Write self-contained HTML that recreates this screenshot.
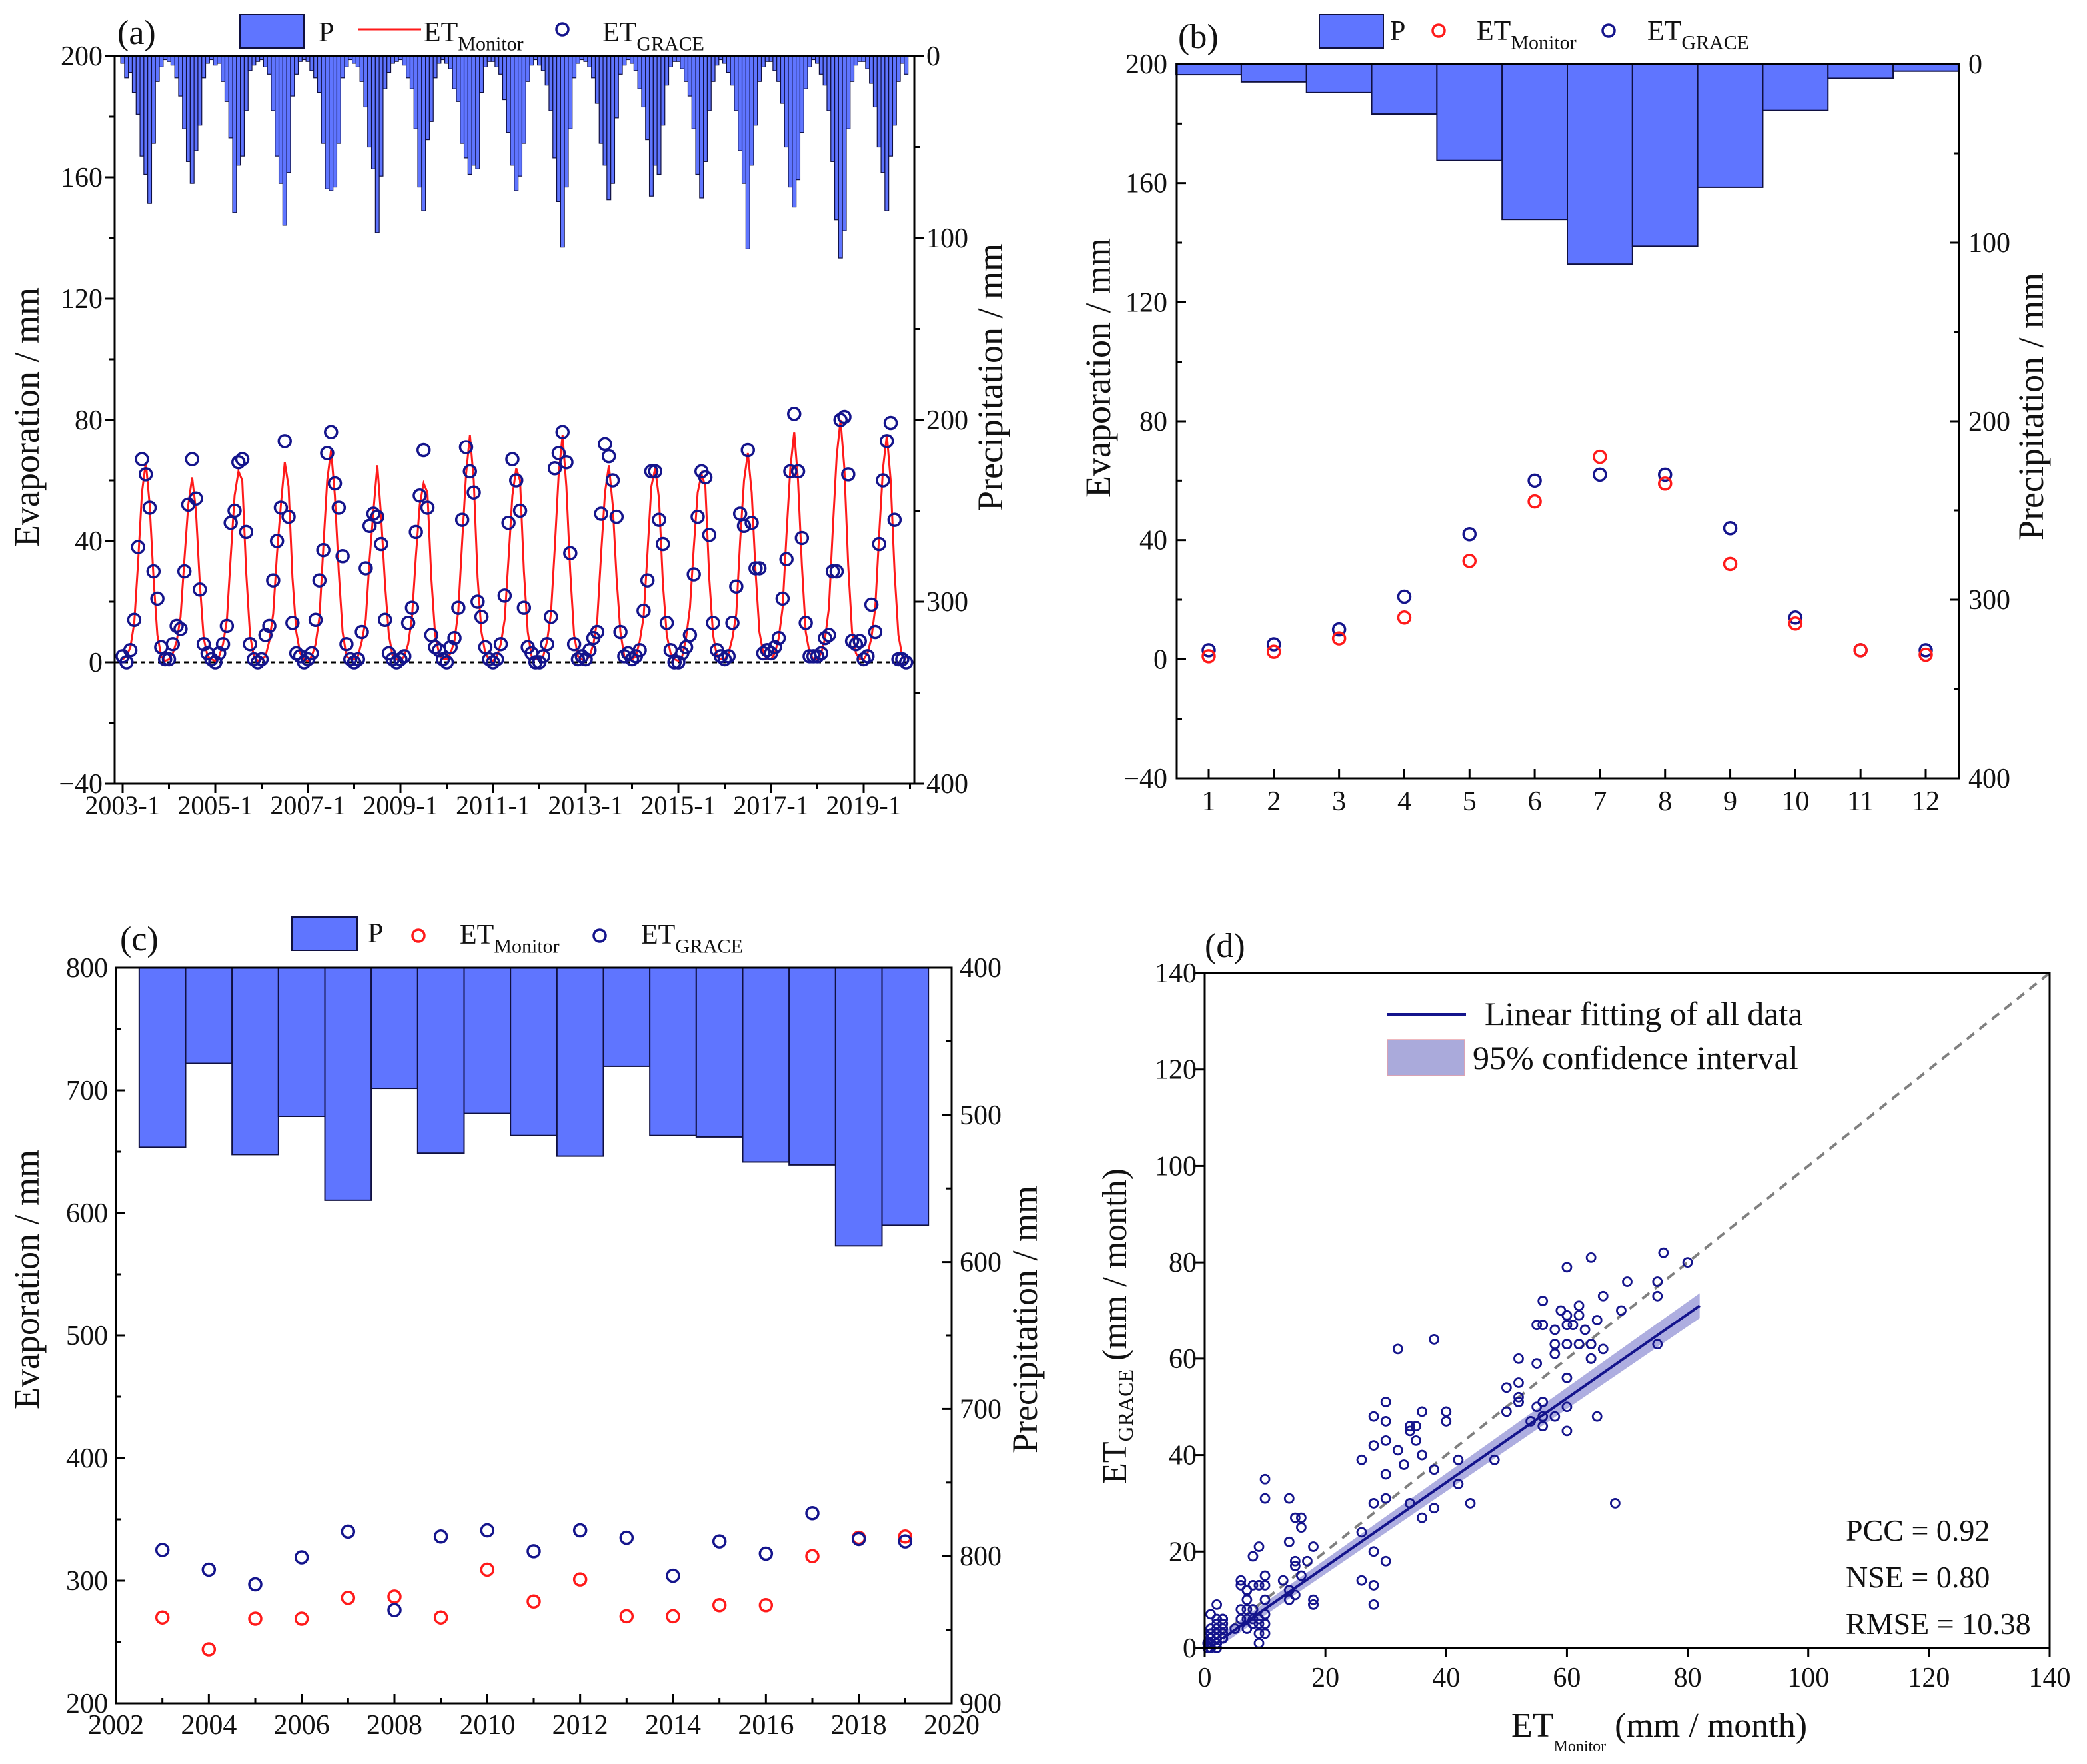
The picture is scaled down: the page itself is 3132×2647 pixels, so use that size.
<!DOCTYPE html>
<html><head><meta charset="utf-8"><style>
html,body{margin:0;padding:0;background:#fff;}
svg{display:block;font-family:"Liberation Serif",serif;}
svg text{font-family:"Liberation Serif",serif;}
</style></head><body>
<svg id="svg" width="3132" height="2647" viewBox="0 0 3132 2647" xmlns="http://www.w3.org/2000/svg" font-family="Liberation Serif, serif"></svg>
<script>
// ---------- data ----------
const yearsA = [2003,2004,2005,2006,2007,2008,2009,2010,2011,2012,2013,2014,2015,2016,2017,2018,2019];
const precipMonthly = [
[4,12,9,20,32,55,65,81,48,14,6,2],
[3,5,12,22,40,58,70,52,38,12,4,2],
[5,4,14,25,45,86,60,55,30,8,5,3],
[2,6,10,30,55,70,93,64,22,10,3,2],
[3,8,12,20,48,73,74,72,48,12,6,2],
[4,6,14,28,50,62,97,66,18,9,4,3],
[2,5,12,18,40,72,85,46,36,12,4,2],
[4,7,18,25,48,56,65,60,62,20,6,3],
[3,6,10,24,42,60,74,66,48,14,5,2],
[5,8,16,30,56,80,105,72,40,12,4,2],
[3,6,12,26,48,60,79,70,34,10,5,2],
[4,8,18,28,46,77,60,65,38,16,6,3],
[3,7,14,22,40,65,78,58,30,14,5,2],
[4,9,16,30,52,70,106,60,38,14,6,3],
[3,8,14,26,50,72,83,68,42,18,6,2],
[4,10,16,30,58,90,111,96,40,14,5,3],
[3,7,15,28,50,64,85,55,38,14,4,10]];
const etMonitorMonthly = [
[1,2,5,13,33,56,66,52,28,9,2,0.5],
[1,3,7,15,34,52,61,50,26,8,2,1],
[0.5,2,6,14,35,55,63,60,30,9,2,0.5],
[1,2,7,16,36,52,66,58,28,10,3,1],
[0.5,2,6,15,38,60,70,55,30,10,2,1],
[1,2,7,14,34,50,65,48,26,9,2,1],
[0.5,2,6,15,35,52,59,56,28,9,3,1],
[1,3,7,17,40,62,75,60,28,10,3,1],
[0.5,2,6,14,34,55,64,60,30,10,2,1],
[1,2,7,16,38,62,75,58,30,9,2,1],
[0.5,2,6,14,36,56,65,52,28,10,2,1],
[1,2,7,15,36,58,64,54,26,9,3,1],
[0.5,2,8,18,38,56,62,58,28,9,2,1],
[1,3,8,16,40,60,69,56,30,10,3,1],
[1,3,8,18,42,64,76,60,32,10,3,1],
[1,3,8,18,44,68,80,64,32,10,3,1],
[1,3,8,18,42,64,75,60,30,9,2,1]];
const etGraceMonthly = [
[2,0,4,14,38,67,62,51,30,21,5,1],
[1,6,12,11,30,52,67,54,24,6,3,1],
[0,3,6,12,46,50,66,67,43,6,1,0],
[1,9,12,27,40,51,73,48,13,3,2,0],
[1,3,14,27,37,69,76,59,51,35,6,1],
[0,1,10,31,45,49,48,39,14,3,1,0],
[1,2,13,18,43,55,70,51,9,5,4,1],
[0,5,8,18,47,71,63,56,20,15,5,1],
[0,1,6,22,46,67,60,50,18,5,3,0],
[0,2,6,15,64,69,76,66,36,6,1,2],
[1,4,8,10,49,72,68,60,48,10,2,3],
[1,2,4,17,27,63,63,47,39,13,4,0],
[0,3,5,9,29,48,63,61,42,13,4,2],
[1,2,13,25,49,45,70,46,31,31,3,4],
[3,5,8,21,34,63,82,63,41,13,2,2],
[2,3,8,9,30,30,80,81,62,7,6,7],
[1,2,19,10,39,60,73,79,47,1,1,0]];

const monthsB = [1,2,3,4,5,6,7,8,9,10,11,12];
const precipB = [6,10,16,28,54,87,112,102,69,26,8,4];
const etMonitorB = [1,2.5,7,14,33,53,68,59,32,12,3,1.5];
const etGraceB = [3,5,10,21,42,60,62,62,44,14,3,3];

const yearsC = [2003,2004,2005,2006,2007,2008,2009,2010,2011,2012,2013,2014,2015,2016,2017,2018,2019];
const precipC = [522,465,527,501,558,482,526,499,514,528,467,514,515,532,534,589,575];
const etMonitorC = [270,244,269,269,286,287,270,309,283,301,271,271,280,280,320,335,336];
const etGraceC = [325,309,297,319,340,276,336,341,324,341,335,304,332,322,355,334,332];

const fitX = [3,82];
const fitY = [2,71];
const ciHalf = [1.2,2.6];
const statsLabels = ["PCC = 0.92","NSE = 0.80","RMSE = 10.38"];

// ---------- helpers ----------
const NS="http://www.w3.org/2000/svg";
const FONT='"Liberation Serif", serif';
const svg=document.getElementById('svg');
function el(tag,attrs,parent){const e=document.createElementNS(NS,tag);for(const k in attrs)e.setAttribute(k,attrs[k]);(parent||svg).appendChild(e);return e;}
function lin(d0,d1,r0,r1){return v=>r0+(v-d0)*(r1-r0)/(d1-d0);}
function txt(x,y,s,size,anchor,parent,name){const t=el('text',{x:x,y:y,'font-size':size,'font-family':FONT,'text-anchor':anchor||'middle',fill:'#111'},parent);t.textContent=s;


return t;}
function subTxt(x,y,main,sub,size,subSize,parent,name){const t=el('text',{x:x,y:y,'font-size':size,'font-family':FONT,'text-anchor':'start',fill:'#111'},parent);


const a=el('tspan',{},t);a.textContent=main;const b=el('tspan',{dy:subSize*0.45,'font-size':subSize},t);b.textContent=sub;return t;}
function group(name){const g=el('g',{});


return g;}
const BLUE='#5f75ff', NAVY='#14148c', RED='#ff1a1a';
function circ(g,x,y,r,c,w,name){const c1=el('circle',{cx:x,cy:y,r:r,fill:'none',stroke:c,'stroke-width':w},g);


return c1;}
function rotTitle(x,y,s,size,name){const t=txt(0,0,s,size,'middle',svg,name);t.setAttribute('transform',`translate(${x},${y}) rotate(-90)`);return t;}

// ---------- Panel A ----------
(function(){
const g=group('panel-a');
const L=172,R=1372,T=84,B=1176;
const y=lin(200,-40,T,B), yp=lin(0,400,T,B);
const x0=184, perYear=69.5;
const xm=i=>x0+i*perYear/12;
const bw=perYear/12;
precipMonthly.forEach((row,yi)=>row.forEach((v,m)=>{const i=yi*12+m;
const r=el('rect',{x:xm(i)-bw/2,y:T,width:bw,height:yp(v)-T,fill:BLUE,stroke:'#101040','stroke-width':1.2},g);

}));
const zl=el('line',{x1:L,x2:R,y1:y(0),y2:y(0),stroke:'#000','stroke-width':3,'stroke-dasharray':'7,6'},g);


let pts=[];etMonitorMonthly.forEach((row,yi)=>row.forEach((v,m)=>pts.push(xm(yi*12+m).toFixed(1)+','+y(v).toFixed(1))));
const pl=el('polyline',{points:pts.join(' '),fill:'none',stroke:RED,'stroke-width':3},g);


etGraceMonthly.forEach((row,yi)=>row.forEach((v,m)=>circ(g,xm(yi*12+m),y(v),9,NAVY,3.5,'et-grace-point')));
el('rect',{x:L,y:T,width:R-L,height:B-T,fill:'none',stroke:'#000','stroke-width':3},g);
for(let v=-40;v<=200;v+=20){const yy=y(v);const maj=v%40===0;el('line',{x1:L,x2:L-(maj?14:8),y1:yy,y2:yy,stroke:'#000','stroke-width':3},g);if(maj)txt(L-18,yy+14,v<0?'−'+(-v):String(v),42,'end',g,'y-tick-label');}
for(let v=0;v<=400;v+=50){const yy=yp(v);const maj=v%100===0;el('line',{x1:R,x2:R+(maj?14:8),y1:yy,y2:yy,stroke:'#000','stroke-width':3},g);if(maj)txt(R+18,yy+14,String(v),42,'start',g,'y2-tick-label');}
for(let k=0;k<=17;k++){const xx=x0+k*perYear;el('line',{x1:xx,x2:xx,y1:B,y2:B+(k%2===0?14:8),stroke:'#000','stroke-width':3},g);if(k%2===0&&k<=16)txt(xx,B+46,(2003+k)+'-1',40,'middle',g,'x-tick-label');}
rotTitle(58,626,'Evaporation / mm',54,'y-axis-title');
rotTitle(1504,566,'Precipitation / mm',54,'y2-axis-title');
txt(176,66,'(a)',52,'start',g,'panel-label');
const lg=group('legend-a');
el('rect',{x:360,y:22,width:96,height:50,fill:BLUE,stroke:'#101040','stroke-width':2},lg);
txt(478,62,'P',42,'start',lg,'legend-p');
el('line',{x1:538,x2:632,y1:44,y2:44,stroke:RED,'stroke-width':3},lg);
subTxt(636,62,'ET','Monitor',42,30,lg,'legend-et-monitor');
circ(lg,844,44,9,NAVY,3.5,'legend-grace-marker');
subTxt(904,62,'ET','GRACE',42,30,lg,'legend-et-grace');
})();

// ---------- Panel B ----------
(function(){
const g=group('panel-b');
const L=1766,R=2940,T=96,B=1168;
const y=lin(200,-40,T,B), yp=lin(0,400,T,B);
const x=lin(1,12,1814,2890), bw=(2890-1814)/11;
precipB.forEach((v,i)=>{const r=el('rect',{x:x(monthsB[i])-bw/2,y:T,width:bw,height:yp(v)-T,fill:BLUE,stroke:'#101040','stroke-width':2},g);

});
etGraceB.forEach((v,i)=>circ(g,x(monthsB[i]),y(v),9,NAVY,3.5,'et-grace-point'));
etMonitorB.forEach((v,i)=>circ(g,x(monthsB[i]),y(v),9,RED,3.5,'et-monitor-point'));
el('rect',{x:L,y:T,width:R-L,height:B-T,fill:'none',stroke:'#000','stroke-width':3},g);
for(let v=-40;v<=200;v+=20){const yy=y(v);const maj=v%40===0;el('line',{x1:L,x2:L+(maj?14:8),y1:yy,y2:yy,stroke:'#000','stroke-width':3},g);if(maj)txt(L-14,yy+14,v<0?'−'+(-v):String(v),42,'end',g,'y-tick-label');}
for(let v=0;v<=400;v+=50){const yy=yp(v);const maj=v%100===0;el('line',{x1:R,x2:R-(maj?14:8),y1:yy,y2:yy,stroke:'#000','stroke-width':3},g);if(maj)txt(R+14,yy+14,String(v),42,'start',g,'y2-tick-label');}
monthsB.forEach(m=>{el('line',{x1:x(m),x2:x(m),y1:B,y2:B-14,stroke:'#000','stroke-width':3},g);txt(x(m),B+48,String(m),42,'middle',g,'x-tick-label');});
rotTitle(1666,552,'Evaporation / mm',54,'y-axis-title');
rotTitle(3066,610,'Precipitation / mm',54,'y2-axis-title');
txt(1768,72,'(b)',52,'start',g,'panel-label');
const lg=group('legend-b');
el('rect',{x:1980,y:22,width:96,height:50,fill:BLUE,stroke:'#101040','stroke-width':2},lg);
txt(2086,60,'P',42,'start',lg,'legend-p');
circ(lg,2159,46,9,RED,3.5,'legend-monitor-marker');
subTxt(2216,60,'ET','Monitor',42,30,lg,'legend-et-monitor');
circ(lg,2414,46,9,NAVY,3.5,'legend-grace-marker');
subTxt(2472,60,'ET','GRACE',42,30,lg,'legend-et-grace');
})();

// ---------- Panel C ----------
(function(){
const g=group('panel-c');
const L=174,R=1428,T=1452,B=2556;
const y=lin(800,200,T,B), yp=lin(400,900,T,B), x=lin(2002,2020,L,R), bw=(R-L)/18;
precipC.forEach((v,i)=>{const r=el('rect',{x:x(yearsC[i])-bw/2,y:T,width:bw,height:yp(v)-T,fill:BLUE,stroke:'#101040','stroke-width':2},g);

});
etMonitorC.forEach((v,i)=>circ(g,x(yearsC[i]),y(v),9,RED,3.5,'et-monitor-point'));
etGraceC.forEach((v,i)=>circ(g,x(yearsC[i]),y(v),9,NAVY,3.5,'et-grace-point'));
el('rect',{x:L,y:T,width:R-L,height:B-T,fill:'none',stroke:'#000','stroke-width':3},g);
for(let v=200;v<=800;v+=50){const yy=y(v);const maj=v%100===0;el('line',{x1:L,x2:L+(maj?14:8),y1:yy,y2:yy,stroke:'#000','stroke-width':3},g);if(maj)txt(L-12,yy+14,String(v),42,'end',g,'y-tick-label');}
for(let v=400;v<=900;v+=50){const yy=yp(v);const maj=v%100===0;el('line',{x1:R,x2:R-(maj?14:8),y1:yy,y2:yy,stroke:'#000','stroke-width':3},g);if(maj)txt(R+12,yy+14,String(v),42,'start',g,'y2-tick-label');}
for(let yr=2002;yr<=2020;yr++){const xx=x(yr);const maj=yr%2===0;el('line',{x1:xx,x2:xx,y1:B,y2:B-(maj?14:8),stroke:'#000','stroke-width':3},g);if(maj)txt(xx,B+46,String(yr),42,'middle',g,'x-tick-label');}
rotTitle(58,1920,'Evaporation / mm',54,'y-axis-title');
rotTitle(1556,1980,'Precipitation / mm',54,'y2-axis-title');
txt(180,1426,'(c)',52,'start',g,'panel-label');
const lg=group('legend-c');
el('rect',{x:438,y:1376,width:98,height:50,fill:BLUE,stroke:'#101040','stroke-width':2},lg);
txt(552,1414,'P',42,'start',lg,'legend-p');
circ(lg,628,1404,9,RED,3.5,'legend-monitor-marker');
subTxt(690,1416,'ET','Monitor',42,30,lg,'legend-et-monitor');
circ(lg,900,1404,9,NAVY,3.5,'legend-grace-marker');
subTxt(962,1416,'ET','GRACE',42,30,lg,'legend-et-grace');
})();

// ---------- Panel D ----------
(function(){
const g=group('panel-d');
const L=1808,R=3076,T=1460,B=2473;
const x=lin(0,140,L,R), y=lin(0,140,B,T);
const d=el('line',{x1:x(0),y1:y(0),x2:x(140),y2:y(140),stroke:'#808080','stroke-width':4,'stroke-dasharray':'14,10'},g);


const b=el('polygon',{points:[[fitX[0],fitY[0]+ciHalf[0]],[fitX[1],fitY[1]+ciHalf[1]],[fitX[1],fitY[1]-ciHalf[1]],[fitX[0],fitY[0]-ciHalf[0]]].map(p=>x(p[0])+','+y(p[1])).join(' '),fill:'#9a9ad8',opacity:0.8},g);


etMonitorMonthly.forEach((row,yi)=>row.forEach((v,m)=>circ(g,x(v),y(etGraceMonthly[yi][m]),6.5,NAVY,2.8,'scatter-point')));
const f=el('line',{x1:x(fitX[0]),y1:y(fitY[0]),x2:x(fitX[1]),y2:y(fitY[1]),stroke:NAVY,'stroke-width':4},g);


el('rect',{x:L,y:T,width:R-L,height:B-T,fill:'none',stroke:'#000','stroke-width':3},g);
for(let v=0;v<=140;v+=20){el('line',{x1:L,x2:L-14,y1:y(v),y2:y(v),stroke:'#000','stroke-width':3},g);txt(L-12,y(v)+14,String(v),42,'end',g,'y-tick-label');
el('line',{x1:x(v),x2:x(v),y1:B,y2:B+14,stroke:'#000','stroke-width':3},g);txt(x(v),B+58,String(v),42,'middle',g,'x-tick-label');}
const yt=el('text',{'font-size':52,'font-family':FONT,'text-anchor':'middle',fill:'#111',transform:'translate(1690,1990) rotate(-90)'},g);


const t1=el('tspan',{},yt);t1.textContent='ET';const t2=el('tspan',{'font-size':32,dy:10},yt);t2.textContent='GRACE';const t3=el('tspan',{dy:-10},yt);t3.textContent=' (mm / month)';
const xt=el('text',{x:2490,y:2606,'font-size':52,'font-family':FONT,'text-anchor':'middle',fill:'#111'},g);


const s1=el('tspan',{},xt);s1.textContent='ET';const s2=el('tspan',{'font-size':24,dy:22},xt);s2.textContent='Monitor';const s3=el('tspan',{dy:-22},xt);s3.textContent='  (mm / month)';
txt(1808,1436,'(d)',52,'start',g,'panel-label');
const lg=group('legend-d');
el('line',{x1:2082,x2:2200,y1:1522,y2:1522,stroke:NAVY,'stroke-width':4},lg);
txt(2228,1538,'Linear fitting of all data',50,'start',lg,'legend-fit');
el('rect',{x:2082,y:1560,width:116,height:54,fill:'#aaaadb',stroke:'#e8a0a8','stroke-width':1.5},lg);
txt(2210,1604,'95% confidence interval',50,'start',lg,'legend-ci');
statsLabels.forEach((s,i)=>txt(2770,2312+i*70,s,46,'start',g,'stat-'+i));
})();
</script>
</body></html>
